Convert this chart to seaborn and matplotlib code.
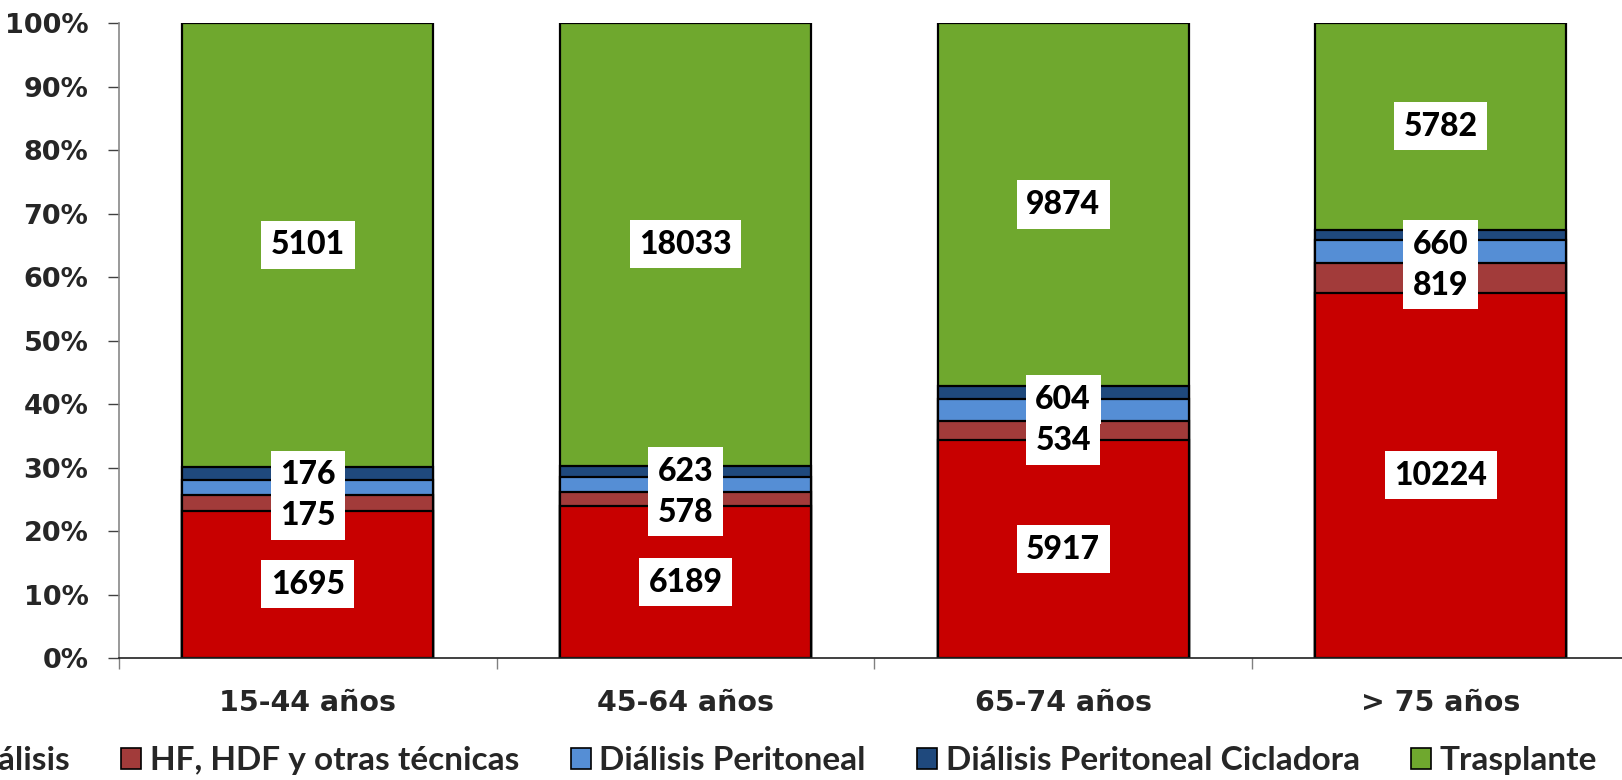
import numpy as np
import pandas as pd
import seaborn as sns
import matplotlib.pyplot as plt
from matplotlib.patches import Patch

# Data (patients per age group)
categorias = ["15-44 años", "45-64 años", "65-74 años", "> 75 años"]
series = ["Hemodiálisis", "HF, HDF y otras técnicas", "Diálisis Peritoneal",
          "Diálisis Peritoneal Cicladora", "Trasplante"]
hemodialisis = [1695, 6189, 5917, 10224]
hf_hdf = [175, 578, 534, 819]
dp = [176, 623, 604, 660]
dpc = [150, 450, 340, 280]  # no label in the original
trasplante = [5101, 18033, 9874, 5782]
colores = ["#C80000", "#A23B3A", "#558ED5", "#1F497D", "#6FA82E"]
mostrar = [True, True, True, False, True]

valores = np.array([hemodialisis, hf_hdf, dp, dpc, trasplante], dtype=float)
pct = valores / valores.sum(axis=0) * 100
acum = np.cumsum(pct, axis=0)

sns.set_theme(style="white")
plt.rcParams["font.family"] = ["DejaVu Sans"]
plt.rcParams["font.weight"] = "bold"

fig = plt.figure(figsize=(16.22, 7.8), dpi=100)
ax = fig.add_axes([0.0734, 0.1564, 0.9266, 0.8141])

# stacked bars: draw cumulative heights from the top series down
for i in range(len(series) - 1, -1, -1):
    df = pd.DataFrame({"cat": categorias, "val": acum[i]})
    sns.barplot(data=df, x="cat", y="val", order=categorias, color=colores[i],
                saturation=1, width=0.665, edgecolor="black", linewidth=1.6,
                ax=ax, zorder=2)

# value labels (centered, pushed apart when small segments overlap)
centros = acum - pct / 2
for j in range(len(categorias)):
    ys = centros[:, j].copy()
    gap = 6.5
    if ys[2] - ys[1] < gap:
        mid = (ys[1] + ys[2]) / 2
        ys[1] = mid - gap / 2
        ys[2] = mid + gap / 2
    for i in range(len(series)):
        if not mostrar[i]:
            continue
        ax.text(j, ys[i], f"{int(valores[i, j])}", ha="center", va="center",
                fontsize=23, fontweight=900, family=["Lato", "DejaVu Sans"],
                color="black", zorder=5,
                bbox=dict(boxstyle="square,pad=0.3", facecolor="white",
                          edgecolor="none"))

ax.set_ylim(0, 100)
ax.set_xlim(-0.5, 3.48)
ax.set_yticks(np.arange(0, 101, 10))
ax.set_yticklabels([f"{v}%" for v in range(0, 101, 10)])
ax.set_xlabel("")
ax.set_ylabel("")
ax.tick_params(axis="y", which="major", direction="out", length=8, width=1,
               color="#404040", labelsize=19.5, pad=14, left=True)
ax.tick_params(axis="x", which="major", length=0, labelsize=20.5, pad=22)
ax.set_xticks([-0.5, 0.5, 1.5, 2.5], minor=True)
ax.tick_params(axis="x", which="minor", direction="out", length=8, width=1,
               color="#808080", bottom=True)
for lab in ax.get_xticklabels() + ax.get_yticklabels():
    lab.set_fontweight("bold")

for s in ["top", "right"]:
    ax.spines[s].set_visible(False)
ax.spines["left"].set_color("#888888")
ax.spines["left"].set_linewidth(1.2)
ax.spines["bottom"].set_color("#202020")
ax.spines["bottom"].set_linewidth(1.2)
ax.grid(False)

# legend spills past the left edge, as in the original figure
handles = [Patch(facecolor=c, edgecolor="black", linewidth=1.2) for c in colores]
fig.legend(handles, series, loc="center left", bbox_to_anchor=(-0.11, 0.025),
           ncol=5, frameon=False, handlelength=0.6, handleheight=0.6,
           handletextpad=0.25, columnspacing=1.55,
           prop={"family": ["Lato", "DejaVu Sans"], "weight": "bold", "size": 24})

fig.savefig("out.png", dpi=100)
